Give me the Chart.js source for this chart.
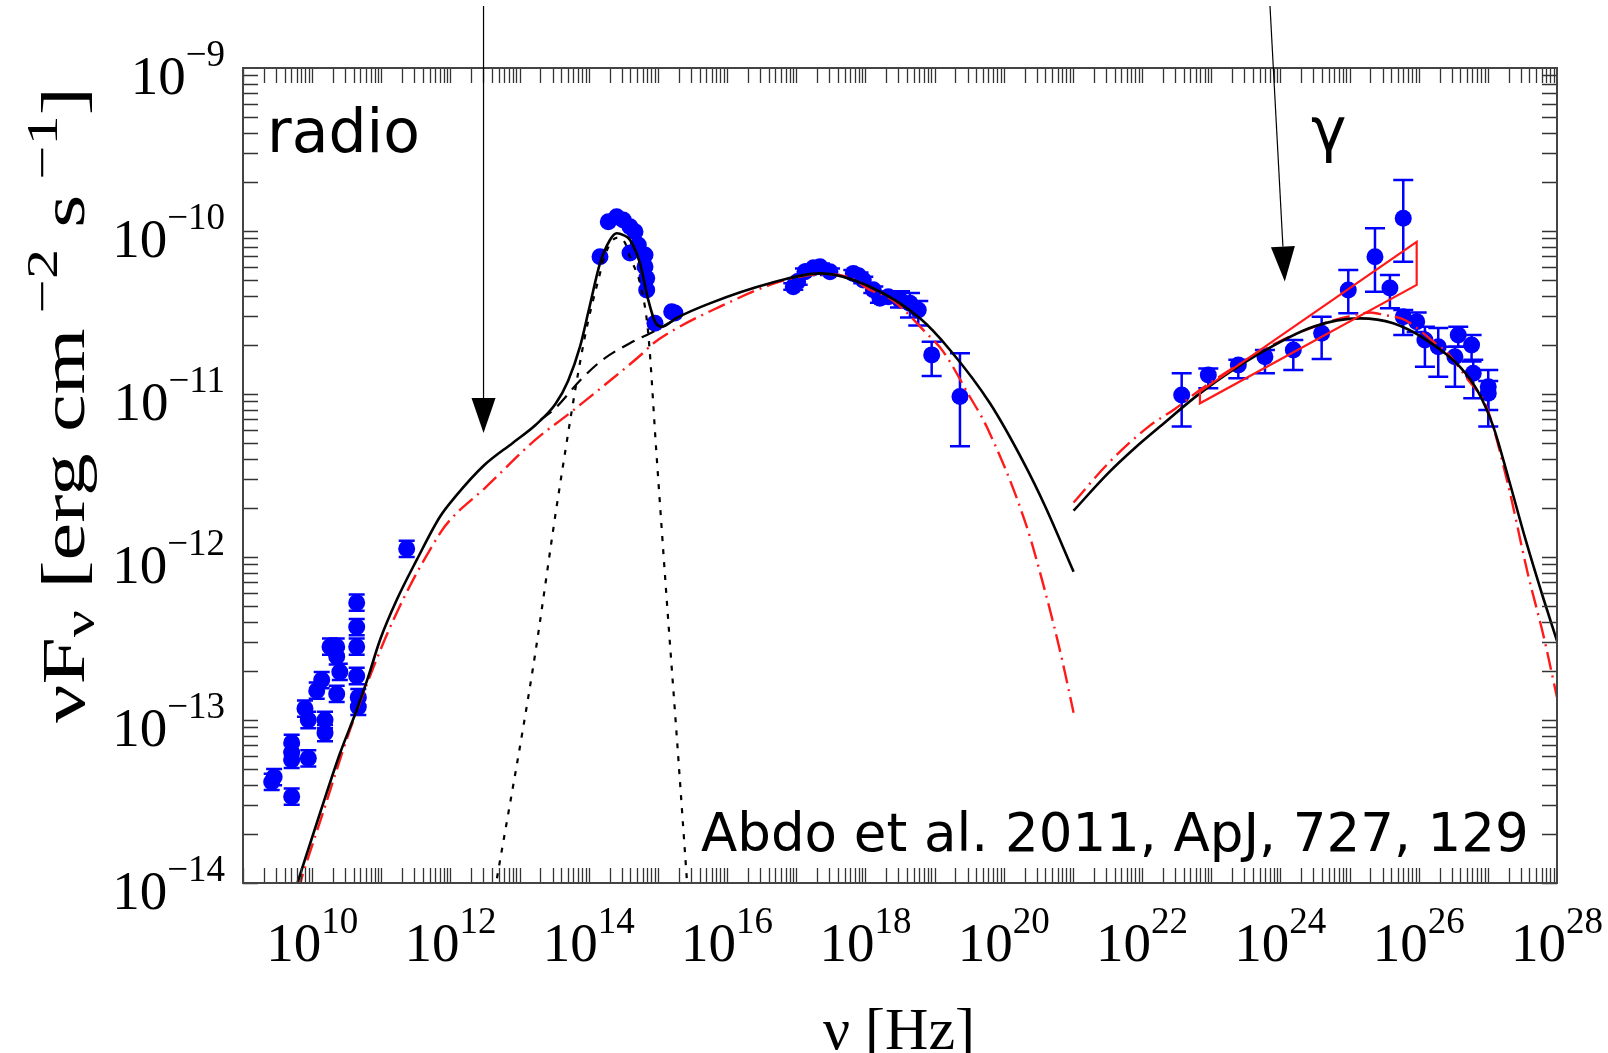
<!DOCTYPE html>
<html>
<head>
<meta charset="utf-8">
<script src="https://cdn.jsdelivr.net/npm/chart.js@4.4.1/dist/chart.umd.min.js"></script>
<style>
  html, body { margin: 0; padding: 0; background: #fff; }
  canvas { display: block; }
</style>
</head>
<body>
<canvas id="sed" width="1608" height="1053"></canvas>
<script>
// all values are log10(nu / Hz) and log10(nuFnu / erg cm^-2 s^-1)

// data points
const radioNu = [9.415, 9.45, 9.704, 9.704, 9.704, 9.704, 9.896, 9.944, 9.944, 10.066, 10.138, 10.186, 10.186, 10.258, 10.355, 10.355, 10.355, 10.40, 10.644, 10.644, 10.644, 10.644, 10.667, 10.667, 11.367];
const radioF  = [-13.38, -13.35, -13.47, -13.245, -13.20, -13.14, -12.93, -13.0, -13.235, -12.82, -12.755, -13.0, -13.08, -12.55, -12.55, -12.61, -12.84, -12.705, -12.28, -12.43, -12.55, -12.73, -12.86, -12.92, -11.95];

const optNu = [14.162, 14.282, 14.403, 14.499, 14.596, 14.668, 14.596, 14.716, 14.813, 14.813, 14.837, 14.837, 14.957, 15.199, 15.246];
const optF  = [-10.158, -9.943, -9.912, -9.933, -9.974, -10.004, -10.135, -10.086, -10.147, -10.219, -10.29, -10.362, -10.566, -10.495, -10.503];

const xrayNu = [16.957, 17.02, 17.126, 17.25, 17.343, 17.488, 17.825, 17.90, 17.969, 18.114, 18.21, 18.33, 18.50, 18.644, 18.764, 18.958, 19.367];
const xrayF  = [-10.342, -10.31, -10.25, -10.225, -10.219, -10.25, -10.26, -10.275, -10.30, -10.36, -10.413, -10.403, -10.423, -10.444, -10.485, -10.76, -11.016];
const xrayHi = [-10.32, -10.29, -10.23, -10.205, -10.2, -10.23, -10.24, -10.255, -10.28, -10.34, -10.39, -10.38, -10.37, -10.38, -10.43, -10.68, -10.75];
const xrayLo = [-10.36, -10.33, -10.27, -10.245, -10.24, -10.27, -10.28, -10.295, -10.32, -10.38, -10.44, -10.43, -10.47, -10.53, -10.58, -10.89, -11.32];

const gamNu = [22.573, 22.958, 23.392, 23.777, 24.187, 24.597, 24.982, 25.368, 25.777, 25.584, 25.777, 25.971, 26.09, 26.283, 26.572, 26.524, 26.765, 26.789, 27.006, 27.006];
const gamF  = [-11.006, -10.883, -10.822, -10.771, -10.73, -10.628, -10.362, -10.158, -9.922, -10.35, -10.526, -10.556, -10.669, -10.71, -10.638, -10.771, -10.70, -10.873, -10.955, -10.996];
const gamHi = [-10.873, -10.843, -10.79, -10.73, -10.669, -10.526, -10.239, -9.983, -9.687, -10.27, -10.485, -10.50, -10.587, -10.595, -10.587, -10.71, -10.638, -10.79, -10.853, -10.92];
const gamLo = [-11.20, -10.965, -10.904, -10.873, -10.853, -10.785, -10.505, -10.372, -10.188, -10.474, -10.638, -10.62, -10.833, -10.894, -10.71, -10.955, -10.80, -11.026, -11.098, -11.20];

// model curves
const totSynNu = [9.75, 9.9, 10.113, 10.403, 10.644, 10.812, 10.981, 11.222, 11.512, 11.848, 12.07, 12.49, 12.9, 13.23, 13.52, 13.7, 13.873, 14.0, 14.162, 14.306, 14.403, 14.5, 14.596, 14.74, 14.86, 14.957, 15.054, 15.272, 15.75, 16.62, 17.343, 18.066, 18.789, 19.223, 19.801, 20.3, 20.6, 21.01];
const totSynF  = [-14.05, -13.85, -13.572, -13.204, -12.939, -12.734, -12.509, -12.264, -12.018, -11.753, -11.63, -11.436, -11.30, -11.19, -11.06, -10.92, -10.71, -10.485, -10.198, -10.055, -10.014, -10.025, -10.055, -10.198, -10.423, -10.556, -10.587, -10.533, -10.444, -10.321, -10.26, -10.342, -10.536, -10.73, -11.057, -11.43, -11.69, -12.09];

const totIcNu = [21.01, 21.5, 21.9, 22.259, 22.837, 23.705, 24.476, 25.15, 25.632, 26.115, 26.597, 26.85, 27.079, 27.3, 27.55, 27.8, 28.0];
const totIcF  = [-11.716, -11.49, -11.33, -11.20, -10.996, -10.75, -10.587, -10.536, -10.566, -10.669, -10.833, -10.98, -11.20, -11.52, -11.90, -12.25, -12.515];

const altSynNu = [9.79, 9.9, 10.138, 10.547, 11.174, 11.848, 12.0, 12.49, 13.23, 13.716, 14.2, 14.78, 14.93, 15.27, 15.867, 16.62, 17.1, 17.45, 17.8, 18.066, 18.3, 18.547, 18.836, 19.125, 19.51, 19.753, 20.314, 20.61, 20.833, 21.01];
const altSynF  = [-14.05, -13.9, -13.593, -13.061, -12.387, -11.855, -11.77, -11.58, -11.28, -11.12, -10.955, -10.75, -10.69, -10.597, -10.47, -10.331, -10.276, -10.265, -10.29, -10.362, -10.40, -10.48, -10.607, -10.74, -11.017, -11.20, -11.79, -12.23, -12.61, -12.955];

const altIcNu = [21.01, 21.5, 22.094, 22.48, 22.837, 23.28, 24.022, 24.764, 24.98, 25.3, 25.5, 25.8, 26.245, 26.41, 26.69, 26.99, 27.283, 27.58, 27.803, 28.0];
const altIcF  = [-11.666, -11.43, -11.20, -11.09, -10.975, -10.85, -10.67, -10.548, -10.525, -10.50, -10.515, -10.546, -10.69, -10.745, -10.90, -11.09, -11.54, -12.106, -12.48, -12.861];

const jetNu = [13.3, 13.52, 13.88, 14.2, 14.588, 14.97, 15.3];
const jetF  = [-11.16, -11.085, -10.914, -10.79, -10.69, -10.61, -10.53];

const diskNu = [12.64, 13.197, 13.568, 13.938, 14.162, 14.234, 14.32, 14.42, 14.52, 14.596, 14.765, 14.86, 14.976, 15.125, 15.272, 15.43];
const diskF  = [-14.05, -12.67, -11.60, -10.66, -10.26, -10.15, -10.07, -10.04, -10.07, -10.158, -10.362, -10.63, -11.35, -12.25, -13.1, -14.05];

const bowNu = [22.837, 25.971, 25.971, 22.837, 22.837];
const bowF  = [-10.986, -10.066, -10.331, -11.057, -10.986];

// arrows (tail above the frame, tip inside)
const arrowTailNu = [12.478, 23.85];
const arrowTailF  = [-8.62, -8.62];
const arrowTipNu  = [12.478, 24.064];
const arrowTipF   = [-11.24, -10.31];

const xLabelPowers = [10, 12, 14, 16, 18, 20, 22, 24, 26, 28];
const yLabelPowers = [-14, -13, -12, -11, -10, -9];

const SERIF = '"Liberation Serif", "Times New Roman", serif';
const SANS = '"DejaVu Sans", sans-serif';
const BLUE = '#0000ff';
const RED = '#ff1a1a';
const DASHDOT = [18, 6, 2, 6];

const pow = v => Math.pow(10, v);
const pts = (xs, ys) => xs.map((x, i) => ({ x: pow(x), y: pow(ys[i]) }));

function curve(xs, ys, color, dash, width, smooth) {
  return {
    data: pts(xs, ys), showLine: true, borderColor: color, borderWidth: width,
    borderDash: dash, pointRadius: 0, fill: false,
    cubicInterpolationMode: smooth ? 'monotone' : 'default', tension: 0
  };
}

function dots(xs, ys) {
  return {
    data: pts(xs, ys), showLine: false, pointRadius: 8.5,
    pointBackgroundColor: BLUE, pointBorderColor: BLUE, pointBorderWidth: 0
  };
}

function partsWidth(ctx, parts, family) {
  return parts.reduce((w, p) => { ctx.font = p.s + 'px ' + family; return w + ctx.measureText(p.t).width; }, 0);
}

function drawParts(ctx, parts, x, y, align, family) {
  const total = partsWidth(ctx, parts, family);
  let cx = align === 'center' ? x - total / 2 : align === 'right' ? x - total : x;
  ctx.textAlign = 'left';
  ctx.textBaseline = 'alphabetic';
  parts.forEach(p => {
    ctx.font = p.s + 'px ' + family;
    ctx.fillText(p.t, cx, y + (p.dy || 0));
    cx += ctx.measureText(p.t).width;
  });
}

const errorBars = [
  { nu: radioNu, hi: radioF.map(v => v + 0.05), lo: radioF.map(v => v - 0.05), cap: 8 },
  { nu: xrayNu, hi: xrayHi, lo: xrayLo, cap: 10 },
  { nu: gamNu, hi: gamHi, lo: gamLo, cap: 10 }
];

const sedDecor = {
  id: 'sedDecor',
  beforeDatasetsDraw(chart) {
    const { ctx, scales: { x, y } } = chart;
    ctx.save();
    ctx.strokeStyle = BLUE;
    ctx.lineWidth = 2.5;
    errorBars.forEach(set => {
      set.nu.forEach((n, i) => {
        const px = x.getPixelForValue(pow(n));
        const yh = y.getPixelForValue(pow(set.hi[i]));
        const yl = y.getPixelForValue(pow(set.lo[i]));
        ctx.beginPath();
        ctx.moveTo(px, yh); ctx.lineTo(px, yl);
        ctx.moveTo(px - set.cap, yh); ctx.lineTo(px + set.cap, yh);
        ctx.moveTo(px - set.cap, yl); ctx.lineTo(px + set.cap, yl);
        ctx.stroke();
      });
    });
    ctx.restore();
  },
  afterDatasetsDraw(chart) {
    const { ctx, chartArea: a, scales: { x, y } } = chart;
    const T = 15;
    ctx.save();
    ctx.strokeStyle = '#333';
    ctx.lineWidth = 1.3;
    ctx.beginPath();
    for (let n = 9; n < 28; n++) {
      for (let k = 1; k <= 9; k++) {
        const px = Math.round(x.getPixelForValue(k * pow(n))) + 0.5;
        ctx.moveTo(px, a.bottom); ctx.lineTo(px, a.bottom - T);
        ctx.moveTo(px, a.top); ctx.lineTo(px, a.top + T);
      }
    }
    for (let n = -14; n < -9; n++) {
      for (let k = 1; k <= 9; k++) {
        const py = Math.round(y.getPixelForValue(k * pow(n))) + 0.5;
        ctx.moveTo(a.left, py); ctx.lineTo(a.left + T, py);
        ctx.moveTo(a.right, py); ctx.lineTo(a.right - T, py);
      }
    }
    ctx.stroke();
    ctx.lineWidth = 2;
    ctx.strokeStyle = '#444';
    ctx.strokeRect(a.left, a.top, a.right - a.left, a.bottom - a.top);
    ctx.restore();
  },
  afterDraw(chart) {
    const { ctx, chartArea: a, scales: { x, y } } = chart;
    ctx.save();
    ctx.fillStyle = '#000';

    // tick labels
    xLabelPowers.forEach(n => {
      drawParts(ctx, [{ t: '10', s: 55 }, { t: String(n), s: 37, dy: -28 }],
        x.getPixelForValue(pow(n)), a.bottom + 78, 'center', SERIF);
    });
    yLabelPowers.forEach(n => {
      drawParts(ctx, [{ t: '10', s: 55 }, { t: '\u2212' + Math.abs(n), s: 37, dy: -28 }],
        a.left - 18, y.getPixelForValue(pow(n)) + 26, 'right', SERIF);
    });

    // axis titles
    drawParts(ctx, [{ t: '\u03bd [Hz]', s: 60 }], 899, 1049, 'center', SERIF);
    const yTitle = [
      { t: '\u03bdF', s: 62 }, { t: '\u03bd', s: 44, dy: 10 }, { t: ' [erg cm', s: 62 },
      { t: ' \u22122', s: 44, dy: -27 }, { t: ' s', s: 62 }, { t: ' \u22121', s: 44, dy: -27 }, { t: ']', s: 62 }
    ];
    ctx.save();
    ctx.translate(84, 723);
    ctx.rotate(-Math.PI / 2);
    ctx.scale(636 / partsWidth(ctx, yTitle, SERIF), 1);
    drawParts(ctx, yTitle, 0, 0, 'left', SERIF);
    ctx.restore();

    // annotations
    ctx.font = '60px ' + SANS;
    ctx.textAlign = 'left';
    ctx.fillText('radio', a.left + 24, a.top + 84);
    ctx.fillText('\u03b3', a.left + 1068, a.top + 82);
    ctx.font = '53px ' + SANS;
    ctx.fillText('Abdo et al. 2011, ApJ, 727, 129', a.left + 458, a.bottom - 32);

    // arrows
    ctx.strokeStyle = '#000';
    ctx.lineWidth = 1.2;
    arrowTipNu.forEach((tn, i) => {
      const x0 = x.getPixelForValue(pow(arrowTailNu[i])), y0 = y.getPixelForValue(pow(arrowTailF[i]));
      const x1 = x.getPixelForValue(pow(tn)), y1 = y.getPixelForValue(pow(arrowTipF[i]));
      const ang = Math.atan2(y1 - y0, x1 - x0);
      const L = 35, W = 12;
      const bx = x1 - L * Math.cos(ang), by = y1 - L * Math.sin(ang);
      ctx.beginPath(); ctx.moveTo(x0, y0); ctx.lineTo(bx, by); ctx.stroke();
      ctx.beginPath();
      ctx.moveTo(x1, y1);
      ctx.lineTo(bx + W * Math.sin(ang), by - W * Math.cos(ang));
      ctx.lineTo(bx - W * Math.sin(ang), by + W * Math.cos(ang));
      ctx.closePath();
      ctx.fill();
    });
    ctx.restore();
  }
};

new Chart(document.getElementById('sed'), {
  type: 'scatter',
  data: {
    datasets: [
      curve(bowNu, bowF, RED, [], 2.2, false),
      curve(totSynNu, totSynF, '#000', [], 2.6, true),
      curve(totIcNu, totIcF, '#000', [], 2.6, true),
      curve(altSynNu, altSynF, RED, DASHDOT, 2.4, true),
      curve(altIcNu, altIcF, RED, DASHDOT, 2.4, true),
      curve(jetNu, jetF, '#000', [14, 8], 2.2, true),
      curve(diskNu, diskF, '#000', [5, 8], 2.2, true),
      dots(radioNu, radioF),
      dots(optNu, optF),
      dots(xrayNu, xrayF),
      dots(gamNu, gamF)
    ]
  },
  options: {
    responsive: false,
    animation: false,
    devicePixelRatio: 1,
    layout: { padding: { left: 243, top: 68, right: 51, bottom: 170 } },
    plugins: { legend: { display: false }, tooltip: { enabled: false } },
    scales: {
      x: { type: 'logarithmic', min: 1e9, max: 1e28, display: false },
      y: { type: 'logarithmic', min: 1e-14, max: 1e-9, display: false }
    }
  },
  plugins: [sedDecor]
});
</script>
</body>
</html>
